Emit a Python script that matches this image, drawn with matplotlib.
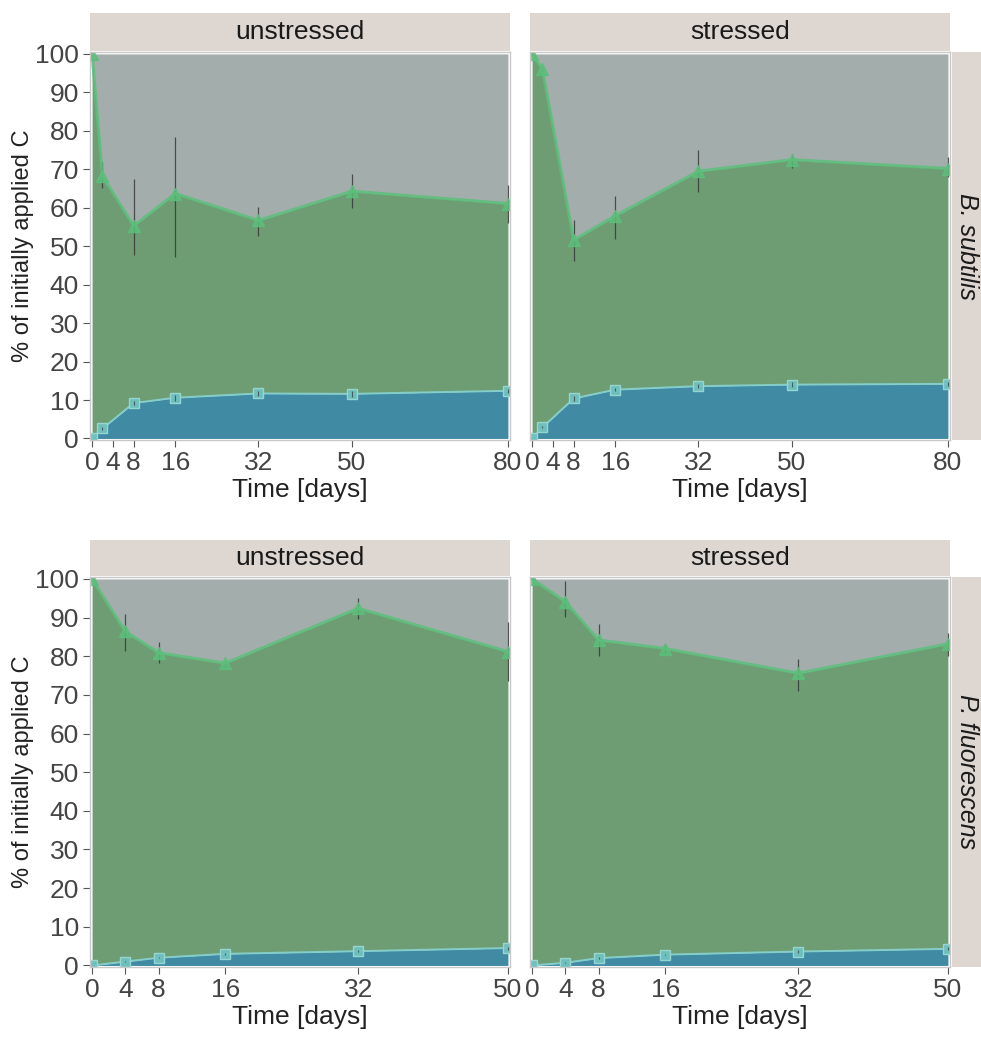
import matplotlib
matplotlib.use("Agg")
import matplotlib.pyplot as plt
from matplotlib import font_manager

# pick a narrow sans if present
names = {f.name for f in font_manager.fontManager.ttflist}
fam = "Liberation Sans Narrow" if "Liberation Sans Narrow" in names else "Liberation Sans"
plt.rcParams["font.family"] = [fam, "DejaVu Sans"]

# ---- data (% of initially applied C) ----
days_bs = [0, 2, 8, 16, 32, 50, 80]
days_pf = [0, 4, 8, 16, 32, 50]
ticks_bs = [0, 4, 8, 16, 32, 50, 80]
ticks_pf = [0, 4, 8, 16, 32, 50]

bs_unstr_upper = [100, 68.2, 55.3, 63.7, 56.7, 64.3, 61.1]
bs_unstr_lo = [100, 65.2, 47.8, 47.1, 52.7, 60.0, 56.0]
bs_unstr_hi = [100, 71.8, 67.5, 78.3, 60.3, 68.8, 65.9]
bs_unstr_bio = [0, 2.6, 9.2, 10.6, 11.7, 11.6, 12.4]
bs_unstr_bio_err = [0, 0.3, 0.6, 0.8, 0.7, 0.8, 0.5]

bs_str_upper = [100, 96.0, 51.6, 57.9, 69.5, 72.5, 70.2]
bs_str_lo = [100, 95.5, 46.2, 51.8, 64.0, 70.4, 68.0]
bs_str_hi = [100, 96.5, 56.8, 63.1, 74.9, 74.1, 73.2]
bs_str_bio = [0, 2.9, 10.4, 12.7, 13.6, 14.0, 14.2]
bs_str_bio_err = [0, 0.3, 0.6, 0.4, 0.5, 0.7, 0.5]

pf_unstr_upper = [100, 86.4, 80.9, 78.2, 92.4, 81.2]
pf_unstr_lo = [100, 81.4, 78.3, 77.6, 89.6, 73.7]
pf_unstr_hi = [100, 90.9, 83.7, 78.8, 95.0, 88.8]
pf_unstr_bio = [0, 1.0, 2.0, 3.0, 3.7, 4.5]
pf_unstr_bio_err = [0, 0.1, 0.2, 0.3, 0.3, 0.4]

pf_str_upper = [100, 94.1, 84.2, 82.0, 75.6, 83.2]
pf_str_lo = [100, 90.2, 80.0, 80.8, 71.0, 80.0]
pf_str_hi = [100, 99.5, 88.4, 83.2, 79.4, 86.1]
pf_str_bio = [0, 0.7, 1.9, 2.8, 3.6, 4.3]
pf_str_bio_err = [0, 0.1, 0.2, 0.2, 0.3, 0.4]

panels = [
    (days_bs, ticks_bs, 80, bs_unstr_upper, bs_unstr_lo, bs_unstr_hi, bs_unstr_bio, bs_unstr_bio_err),
    (days_bs, ticks_bs, 80, bs_str_upper, bs_str_lo, bs_str_hi, bs_str_bio, bs_str_bio_err),
    (days_pf, ticks_pf, 50, pf_unstr_upper, pf_unstr_lo, pf_unstr_hi, pf_unstr_bio, pf_unstr_bio_err),
    (days_pf, ticks_pf, 50, pf_str_upper, pf_str_lo, pf_str_hi, pf_str_bio, pf_str_bio_err),
]
col_titles = ["unstressed", "stressed"]
row_titles = ["B. subtilis", "P. fluorescens"]

c_grey = "#a3aeac"
c_green = "#6e9d74"
c_blue = "#408ba3"
c_gline = "#5cbf7b"
c_bline = "#86d0cd"
c_strip = "#ddd6d1"

W, H = 981, 1048
fig = plt.figure(figsize=(W / 100, H / 100), dpi=100)

def fx(px):
    return px / W

def fy(py):
    return 1 - py / H

lefts = [90, 530]
rows = [(52, 440, 13), (577, 967, 540)]

for i, (x, ticks, xmax, up, lo, hi, bio, bio_err) in enumerate(panels):
    r, c = divmod(i, 2)
    top, bot, stop = rows[r]
    L = lefts[c]
    ax = fig.add_axes([fx(L), fy(bot), fx(420), (bot - top) / H])
    ax.fill_between(x, up, 100, color=c_grey, lw=0)
    ax.fill_between(x, bio, up, color=c_green, lw=0)
    ax.fill_between(x, 0, bio, color=c_blue, lw=0)
    ax.vlines(x[1:], lo[1:], hi[1:], color="#333333", lw=0.9, alpha=0.8)
    ax.plot(x, up, color=c_gline, lw=2.2, marker="^", ms=8,
            mfc=c_gline, mec=c_gline, alpha=0.85)
    ax.plot(x, bio, color=c_bline, lw=1.4, marker="s", ms=6.5,
            mfc="#6fc1bf", mec="#9ad8d5", alpha=0.95)
    b_lo = [b - e for b, e in zip(bio, bio_err)]
    b_hi = [b + e for b, e in zip(bio, bio_err)]
    ax.vlines(x[1:], b_lo[1:], b_hi[1:], color="#333333", lw=0.8, alpha=0.7)

    pad = xmax * 0.005
    ax.set_xlim(-pad, xmax + pad)
    ax.set_ylim(-0.4, 100.5)
    ax.set_xticks(ticks)
    ax.set_yticks(range(0, 101, 10))
    ax.tick_params(axis="both", direction="out", length=5, width=0.8,
                   color="#555555", labelcolor="#444444", labelsize=19, pad=3)
    if c == 1:
        ax.set_yticklabels([])
        ax.tick_params(axis="y", length=0)
    else:
        ax.set_ylabel("% of initially applied C", fontsize=17, color="#222222", labelpad=1)
    ax.set_xlabel("Time [days]", fontsize=19, color="#222222", labelpad=2)
    for s in ax.spines.values():
        s.set_color("#c8c8c8")
        s.set_linewidth(1.0)

    # column strip
    sax = fig.add_axes([fx(L), fy(top - 1), fx(420), (top - 1 - stop) / H])
    sax.set_facecolor(c_strip)
    sax.set_xticks([]); sax.set_yticks([])
    for s in sax.spines.values():
        s.set_visible(False)
    sax.text(0.5, 0.5, col_titles[c], ha="center", va="center",
             fontsize=19, color="#1a1a1a", transform=sax.transAxes)

    # row strip
    if c == 1:
        rax = fig.add_axes([fx(952), fy(bot), fx(W - 952), (bot - top) / H])
        rax.set_facecolor(c_strip)
        rax.set_xticks([]); rax.set_yticks([])
        for s in rax.spines.values():
            s.set_visible(False)
        rax.text(0.5, 0.5, row_titles[r], ha="center", va="center", rotation=-90,
                 fontsize=18, style="italic", color="#1a1a1a", transform=rax.transAxes)

fig.savefig("out.png", dpi=100)
